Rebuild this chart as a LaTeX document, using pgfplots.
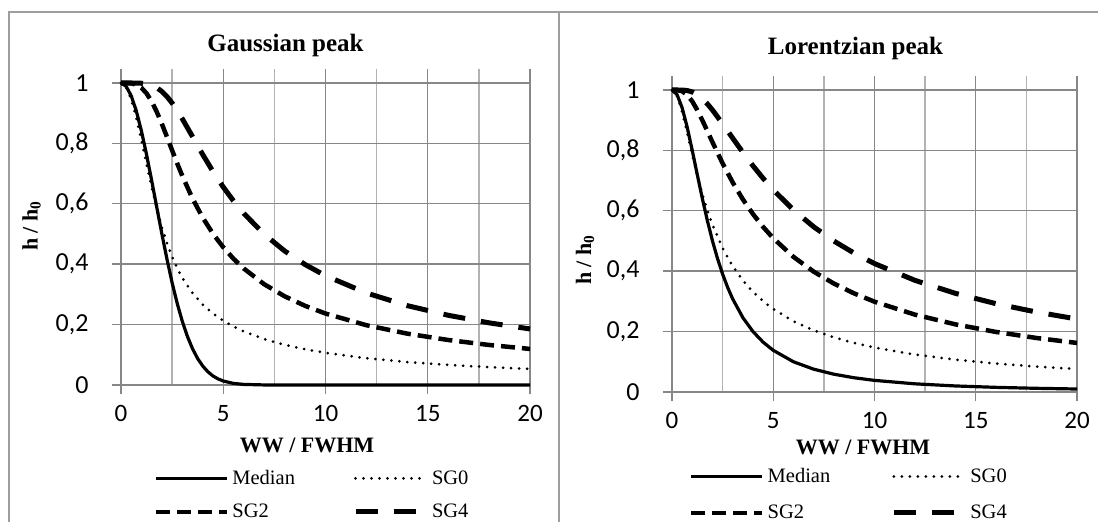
\documentclass[border=0pt]{standalone}
\usepackage{fontspec}
\setmainfont{Liberation Serif}
\newfontfamily\calfont{Carlito}
\usepackage{pgfplots}
\pgfplotsset{compat=1.18}
\definecolor{gridmaj}{gray}{0.53}
\definecolor{gridmin}{gray}{0.70}
\definecolor{framec}{gray}{0.62}
\newcommand\legfont{\fontsize{20.5}{20.5}\selectfont}
\pgfplotsset{
  panel/.style={
    scale only axis, height=315.6pt,
    xmin=0, xmax=20, ymin=0, ymax=1.045,
    axis line style={draw=none},
    xtick={0,5,10,15,20}, minor xtick={2.5,7.5,12.5,17.5},
    xticklabels={0,5,10,15,20},
    ytick={0,0.2,0.4,0.6,0.8,1},
    yticklabels={0,{0,2},{0,4},{0,6},{0,8},1},
    grid=both,
    major grid style={draw=gridmaj, line width=1.4pt},
    minor grid style={draw=gridmin, line width=1.4pt},
    tick pos=left, tick align=outside,
    major tick length=9pt, minor tick length=0pt,
    every tick/.style={draw=gridmaj, line width=1.4pt},
    yticklabel style={font=\calfont\fontsize{26}{26}\selectfont, xshift=-20pt},
    xticklabel style={font=\calfont\fontsize{25}{25}\selectfont, yshift=-8pt},
    clip=false,
    legend columns=2,
    legend cell align=left,
    legend image code/.code={\draw[##1] (0pt,0pt) -- (71pt,0pt);},
  },
  med/.style={black, line width=3.2pt, solid},
  sgz/.style={black, line width=3pt, dash pattern=on 0pt off 8pt, line cap=round},
  sgt/.style={black, line width=4.5pt, dash pattern=on 14pt off 7pt},
  sgf/.style={black, line width=5pt, dash pattern=on 22pt off 16pt},
}
\begin{document}
\begin{tikzpicture}
\useasboundingbox (0pt,0pt) rectangle (1098pt,522pt);
\fill[white] (0pt,0pt) rectangle (1098pt,522pt);
\draw[framec, line width=1.3pt] (9pt,-5pt) -- (9pt,510pt) -- (1105pt,510pt);
\draw[framec, line width=1.6pt] (559pt,-5pt) -- (559pt,510pt);

% ---------------- Gaussian ----------------
\begin{axis}[panel, width=409pt, at={(121pt,137pt)}, anchor=south west,
  legend style={at={(axis description cs:0.08,-0.3485)}, anchor=west, draw=none, fill=none,
    inner sep=0pt, font=\legfont, nodes={inner sep=3pt, font=\legfont}, row sep=12pt,
    /tikz/every even column/.append style={column sep=55pt}}]
\addplot[med] coordinates {(0,1) (0.25,0.98923) (0.5,0.95760) (0.75,0.90713) (1,0.84090) (1.25,0.76280) (1.5,0.67713) (1.75,0.58820) (2,0.5) (2.25,0.41592) (2.5,0.33856) (2.75,0.26969) (3,0.21022) (3.25,0.16036) (3.5,0.11970) (3.75,0.08744) (4,0.0625) (4.25,0.04372) (4.5,0.02973) (4.75,0.02005) (5,0.01314) (5.5,0.00529) (6,0.00195) (7,0.00021) (8,0) (20,0)};
\addlegendentry{\legfont Median}
\addplot[sgz] coordinates {(0,1) (0.25,0.98575) (0.5,0.94512) (0.75,0.88393) (1,0.81003) (1.25,0.73143) (1.5,0.65474) (1.75,0.58433) (2,0.52237) (2.25,0.46928) (2.5,0.42441) (2.75,0.38661) (3,0.35468) (3.5,0.30412) (4,0.26612) (4.5,0.23655) (5,0.21289) (5.5,0.19354) (6,0.17741) (7,0.15207) (8,0.13306) (9,0.11827) (10,0.10645) (12,0.08871) (14,0.07603) (16,0.06653) (18,0.05914) (20,0.05322)};
\addlegendentry{\legfont SG0}
\addplot[sgt] coordinates {(0,1) (0.5,0.99880) (0.75,0.99434) (1,0.98392) (1.25,0.96557) (1.5,0.93874) (1.75,0.90435) (2,0.86434) (2.25,0.82112) (2.5,0.77691) (2.75,0.73348) (3,0.69201) (3.5,0.61717) (4,0.55377) (4.5,0.50063) (5,0.45598) (5.5,0.41816) (6,0.38585) (7,0.33376) (8,0.29376) (9,0.26217) (10,0.23663) (12,0.19792) (14,0.17003) (16,0.14899) (18,0.13256) (20,0.11939)};
\addlegendentry{\legfont SG2}
\addplot[sgf] coordinates {(0,1) (0.5,0.99998) (0.75,0.99982) (1,0.99909) (1.25,0.99699) (1.5,0.99244) (1.75,0.98436) (2,0.97193) (2.25,0.95491) (2.5,0.93359) (2.75,0.90868) (3,0.88115) (3.5,0.82208) (4,0.76269) (4.5,0.70666) (5,0.65552) (5.5,0.60957) (6,0.56854) (7,0.49934) (8,0.44393) (9,0.39894) (10,0.36188) (12,0.30466) (14,0.26276) (16,0.23084) (18,0.20576) (20,0.18555)};
\addlegendentry{\legfont SG4}
\end{axis}

% ---------------- Lorentzian ----------------
\begin{axis}[panel, width=405pt, at={(672pt,130pt)}, anchor=south west,
  legend style={at={(axis description cs:0.042,-0.3248)}, anchor=west, draw=none, fill=none,
    inner sep=0pt, font=\legfont, nodes={inner sep=3pt, font=\legfont}, row sep=15pt,
    /tikz/every even column/.append style={column sep=58pt}}]
\addplot[med] coordinates {(0,1) (0.25,0.98462) (0.5,0.94118) (0.75,0.87671) (1,0.8) (1.25,0.71910) (1.5,0.64) (1.75,0.56637) (2,0.5) (2.25,0.44138) (2.5,0.39024) (2.75,0.34595) (3,0.30769) (3.5,0.24615) (4,0.2) (4.5,0.16495) (5,0.13793) (6,0.1) (7,0.07547) (8,0.05882) (9,0.04706) (10,0.03846) (12,0.02703) (14,0.02) (16,0.01538) (18,0.01220) (20,0.00990)};
\addlegendentry{\legfont Median}
\addplot[sgz] coordinates {(0,1) (0.25,0.97992) (0.5,0.92730) (0.75,0.85800) (1,0.78540) (1.25,0.71684) (1.5,0.65520) (1.75,0.60094) (2,0.55357) (2.5,0.47612) (3,0.41635) (3.5,0.36929) (4,0.33145) (4.5,0.30047) (5,0.27468) (6,0.23427) (7,0.20413) (8,0.18081) (9,0.16224) (10,0.14711) (12,0.12397) (14,0.10711) (16,0.09427) (18,0.08418) (20,0.07604)};
\addlegendentry{\legfont SG0}
\addplot[sgt] coordinates {(0,1) (0.25,0.99969) (0.5,0.99584) (0.75,0.98385) (1,0.96239) (1.25,0.93333) (1.5,0.89952) (1.75,0.86348) (2,0.82702) (2.5,0.75693) (3,0.69360) (3.5,0.63782) (4,0.58908) (4.5,0.54652) (5,0.50923) (6,0.44736) (7,0.39838) (8,0.35881) (9,0.32625) (10,0.29902) (12,0.25612) (14,0.22391) (16,0.19885) (18,0.17881) (20,0.16243)};
\addlegendentry{\legfont SG2}
\addplot[sgf] coordinates {(0,1) (0.25,1.0) (0.5,0.99977) (0.75,0.99819) (1,0.99350) (1.25,0.98450) (1.5,0.97105) (1.75,0.95378) (2,0.93360) (2.5,0.88812) (3,0.84026) (3.5,0.79328) (4,0.74881) (4.5,0.70747) (5,0.66942) (6,0.60265) (7,0.54672) (8,0.49960) (9,0.45956) (10,0.42523) (12,0.36958) (14,0.32657) (16,0.29241) (18,0.26465) (20,0.24166)};
\addlegendentry{\legfont SG4}
\end{axis}

% titles and axis labels
\node[anchor=base, font=\fontsize{25}{25}\selectfont\bfseries] at (285.5pt,470pt) {Gaussian peak};
\node[anchor=base, font=\fontsize{25}{25}\selectfont\bfseries] at (855.5pt,467pt) {Lorentzian peak};
\node[anchor=base, font=\fontsize{22}{22}\selectfont\bfseries] at (307pt,69pt) {WW / FWHM};
\node[anchor=base, font=\fontsize{22}{22}\selectfont\bfseries] at (863pt,67pt) {WW / FWHM};
\node[rotate=90, font=\fontsize{22}{22}\selectfont\bfseries] at (31.5pt,296pt) {h / h\textsubscript{0}};
\node[rotate=90, font=\fontsize{22}{22}\selectfont\bfseries] at (585pt,262pt) {h / h\textsubscript{0}};
\end{tikzpicture}
\end{document}
